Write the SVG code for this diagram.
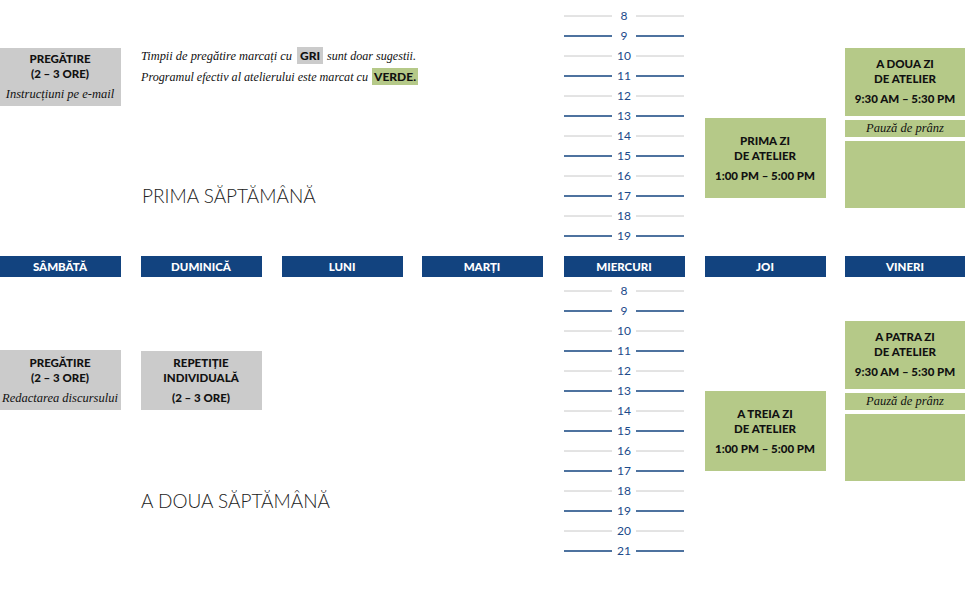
<svg xmlns="http://www.w3.org/2000/svg" width="965" height="610" viewBox="0 0 965 610">
<style>
.day{fill:#12437f}
.dt{font-family:"Lato","Liberation Sans",sans-serif;font-weight:900;font-size:11.5px;fill:#fff;text-anchor:middle}
.b{font-family:"Lato","Liberation Sans",sans-serif;font-weight:900;font-size:11.5px;fill:#111;text-anchor:middle}
.i{font-family:"Liberation Serif",serif;font-style:italic;font-size:12.5px;fill:#111}
.gray{fill:#cbcbcb}.green{fill:#b5c988}
.h{font-family:"Lato","Liberation Sans",sans-serif;font-size:12px;fill:#1c4a8a;text-anchor:middle}
.lg{stroke:#c8c8c8;stroke-width:1}.lb{stroke:#12437f;stroke-width:1.3}
.title{font-family:"Lato","Liberation Sans",sans-serif;font-weight:300;font-size:19px;fill:#222}
</style>
<g id="hours">
<g class="lg"><line x1="564" y1="16" x2="612" y2="16"/><line x1="636" y1="16" x2="684" y2="16"/><line x1="564" y1="56" x2="612" y2="56"/><line x1="636" y1="56" x2="684" y2="56"/><line x1="564" y1="96" x2="612" y2="96"/><line x1="636" y1="96" x2="684" y2="96"/><line x1="564" y1="136" x2="612" y2="136"/><line x1="636" y1="136" x2="684" y2="136"/><line x1="564" y1="176" x2="612" y2="176"/><line x1="636" y1="176" x2="684" y2="176"/><line x1="564" y1="216" x2="612" y2="216"/><line x1="636" y1="216" x2="684" y2="216"/>
<line x1="564" y1="291" x2="612" y2="291"/><line x1="636" y1="291" x2="684" y2="291"/><line x1="564" y1="331" x2="612" y2="331"/><line x1="636" y1="331" x2="684" y2="331"/><line x1="564" y1="371" x2="612" y2="371"/><line x1="636" y1="371" x2="684" y2="371"/><line x1="564" y1="411" x2="612" y2="411"/><line x1="636" y1="411" x2="684" y2="411"/><line x1="564" y1="451" x2="612" y2="451"/><line x1="636" y1="451" x2="684" y2="451"/><line x1="564" y1="491" x2="612" y2="491"/><line x1="636" y1="491" x2="684" y2="491"/><line x1="564" y1="531" x2="612" y2="531"/><line x1="636" y1="531" x2="684" y2="531"/></g>
<g class="lb"><line x1="564" y1="36" x2="612" y2="36"/><line x1="636" y1="36" x2="684" y2="36"/><line x1="564" y1="76" x2="612" y2="76"/><line x1="636" y1="76" x2="684" y2="76"/><line x1="564" y1="116" x2="612" y2="116"/><line x1="636" y1="116" x2="684" y2="116"/><line x1="564" y1="156" x2="612" y2="156"/><line x1="636" y1="156" x2="684" y2="156"/><line x1="564" y1="196" x2="612" y2="196"/><line x1="636" y1="196" x2="684" y2="196"/><line x1="564" y1="236" x2="612" y2="236"/><line x1="636" y1="236" x2="684" y2="236"/>
<line x1="564" y1="311" x2="612" y2="311"/><line x1="636" y1="311" x2="684" y2="311"/><line x1="564" y1="351" x2="612" y2="351"/><line x1="636" y1="351" x2="684" y2="351"/><line x1="564" y1="391" x2="612" y2="391"/><line x1="636" y1="391" x2="684" y2="391"/><line x1="564" y1="431" x2="612" y2="431"/><line x1="636" y1="431" x2="684" y2="431"/><line x1="564" y1="471" x2="612" y2="471"/><line x1="636" y1="471" x2="684" y2="471"/><line x1="564" y1="511" x2="612" y2="511"/><line x1="636" y1="511" x2="684" y2="511"/><line x1="564" y1="551" x2="612" y2="551"/><line x1="636" y1="551" x2="684" y2="551"/></g>
<g class="h"><text x="624" y="20">8</text><text x="624" y="40">9</text><text x="624" y="60">10</text><text x="624" y="80">11</text><text x="624" y="100">12</text><text x="624" y="120">13</text><text x="624" y="140">14</text><text x="624" y="160">15</text><text x="624" y="180">16</text><text x="624" y="200">17</text><text x="624" y="220">18</text><text x="624" y="240">19</text>
<text x="624" y="295">8</text><text x="624" y="315">9</text><text x="624" y="335">10</text><text x="624" y="355">11</text><text x="624" y="375">12</text><text x="624" y="395">13</text><text x="624" y="415">14</text><text x="624" y="435">15</text><text x="624" y="455">16</text><text x="624" y="475">17</text><text x="624" y="495">18</text><text x="624" y="515">19</text><text x="624" y="535">20</text><text x="624" y="555">21</text></g>
</g>
<g id="days">
<rect class="day" x="0" y="256" width="121" height="21"/><text class="dt" x="60" y="271">SÂMBĂTĂ</text>
<rect class="day" x="141" y="256" width="121" height="21"/><text class="dt" x="201" y="271">DUMINICĂ</text>
<rect class="day" x="282" y="256" width="121" height="21"/><text class="dt" x="342" y="271">LUNI</text>
<rect class="day" x="422" y="256" width="121" height="21"/><text class="dt" x="482" y="271">MARȚI</text>
<rect class="day" x="564" y="256" width="121" height="21"/><text class="dt" x="624" y="271">MIERCURI</text>
<rect class="day" x="705" y="256" width="121" height="21"/><text class="dt" x="765" y="271">JOI</text>
<rect class="day" x="845" y="256" width="120" height="21"/><text class="dt" x="905" y="271">VINERI</text>
</g>
<g id="legend">
<text class="i" x="141" y="60" textLength="151" lengthAdjust="spacingAndGlyphs">Timpii de pregătire marcați cu</text>
<rect class="gray" x="297" y="47" width="26" height="17"/><text class="b" x="310" y="60" style="font-size:12px">GRI</text>
<text class="i" x="327" y="60" textLength="89" lengthAdjust="spacingAndGlyphs">sunt doar sugestii.</text>
<text class="i" x="141" y="81" textLength="227" lengthAdjust="spacingAndGlyphs">Programul efectiv al atelierului este marcat cu</text>
<rect class="green" x="372" y="68" width="46" height="17"/><text class="b" x="395" y="81" style="font-size:12px">VERDE.</text>
</g>
<g id="titles">
<text class="title" x="142" y="203">PRIMA SĂPTĂMÂNĂ</text>
<text class="title" x="141" y="508">A DOUA SĂPTĂMÂNĂ</text>
</g>
<g id="prep1"><rect class="gray" x="0" y="48" width="121" height="58"/><text class="b" x="60" y="63">PREGĂTIRE</text><text class="b" x="60" y="78">(2 – 3 ORE)</text><text class="i" x="60" y="98" text-anchor="middle">Instrucțiuni pe e-mail</text></g>
<g id="day1"><rect class="green" x="705" y="118" width="121" height="80"/><text class="b" x="765" y="145">PRIMA ZI</text><text class="b" x="765" y="160">DE ATELIER</text><text class="b" x="765" y="180">1:00 PM – 5:00 PM</text></g>
<g id="day2"><rect class="green" x="845" y="48" width="120" height="68"/><text class="b" x="905" y="68">A DOUA ZI</text><text class="b" x="905" y="83">DE ATELIER</text><text class="b" x="905" y="103">9:30 AM – 5:30 PM</text>
<rect class="green" x="845" y="120" width="120" height="17"/><text class="i" x="905" y="132" text-anchor="middle">Pauză de prânz</text>
<rect class="green" x="845" y="141" width="120" height="67"/></g>
<g id="prep2"><rect class="gray" x="0" y="350" width="121" height="60"/><text class="b" x="60" y="367">PREGĂTIRE</text><text class="b" x="60" y="382">(2 – 3 ORE)</text><text class="i" x="60" y="402" text-anchor="middle">Redactarea discursului</text></g>
<g id="rep"><rect class="gray" x="141" y="351" width="121" height="59"/><text class="b" x="201" y="367">REPETIȚIE</text><text class="b" x="201" y="382">INDIVIDUALĂ</text><text class="b" x="201" y="402">(2 – 3 ORE)</text></g>
<g id="day3"><rect class="green" x="705" y="391" width="121" height="80"/><text class="b" x="765" y="418">A TREIA ZI</text><text class="b" x="765" y="433">DE ATELIER</text><text class="b" x="765" y="453">1:00 PM – 5:00 PM</text></g>
<g id="day4"><rect class="green" x="845" y="321" width="120" height="68"/><text class="b" x="905" y="341">A PATRA ZI</text><text class="b" x="905" y="356">DE ATELIER</text><text class="b" x="905" y="376">9:30 AM – 5:30 PM</text>
<rect class="green" x="845" y="393" width="120" height="17"/><text class="i" x="905" y="405" text-anchor="middle">Pauză de prânz</text>
<rect class="green" x="845" y="414" width="120" height="67"/></g>
</svg>
